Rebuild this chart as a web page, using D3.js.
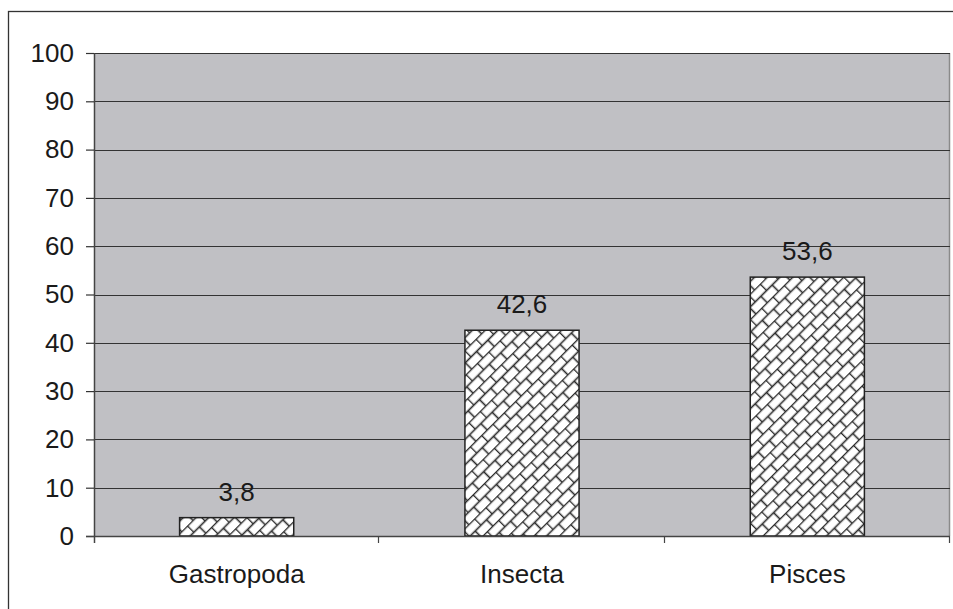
<!DOCTYPE html>
<html>
<head>
<meta charset="utf-8">
<script src="https://cdn.jsdelivr.net/npm/d3@7"></script>
<style>
  html, body { margin: 0; padding: 0; background: #fff; }
  svg { display: block; }
  text { font-family: "Liberation Sans", Arial, sans-serif; fill: #1a1a1a; }
</style>
</head>
<body>
<script>
// Share of prey groups (%)
const categories = ["Gastropoda", "Insecta", "Pisces"];
const values = [3.8, 42.6, 53.6];
const valueLabels = ["3,8", "42,6", "53,6"];
const yTicks = [0, 10, 20, 30, 40, 50, 60, 70, 80, 90, 100];

const W = 953, H = 609;
const plot = { left: 94, right: 950, top: 53, bottom: 536 };
const FS = 26;

const svg = d3.select("body").append("svg").attr("width", W).attr("height", H);

// diagonal brick hatch used for the bars
const defs = svg.append("defs");
const pat = defs.append("pattern")
  .attr("id", "brick")
  .attr("patternUnits", "userSpaceOnUse")
  .attr("width", 16).attr("height", 18)
  .attr("patternTransform", "rotate(-45)");
pat.append("rect").attr("width", 16).attr("height", 18).attr("fill", "#fff");
["M0,0.5H16", "M0,9.5H16", "M0.5,0.5V9.5", "M8.5,9.5V18"].forEach(d => {
  pat.append("path").attr("d", d)
    .attr("stroke", "#2a2a2a").attr("stroke-width", 1.6).attr("fill", "none");
});

// outer frame
svg.append("rect")
  .attr("x", 8.5).attr("y", 11.5).attr("width", 1000).attr("height", 700)
  .attr("fill", "none").attr("stroke", "#333").attr("stroke-width", 1.3);

const x = d3.scaleBand().domain(categories)
  .range([plot.left, plot.right]).paddingInner(0.6).paddingOuter(0.3);
const y = d3.scaleLinear().domain([0, 100]).range([plot.bottom, plot.top]);

// plot background
svg.append("rect")
  .attr("x", plot.left).attr("y", plot.top)
  .attr("width", plot.right - plot.left).attr("height", plot.bottom - plot.top)
  .attr("fill", "#c0c0c4");
svg.append("line")
  .attr("x1", plot.right - 0.5).attr("x2", plot.right - 0.5)
  .attr("y1", plot.top).attr("y2", plot.bottom)
  .attr("stroke", "#8a8a8a").attr("stroke-width", 1.5);

// horizontal gridlines
svg.append("g").selectAll("line").data(yTicks.filter(d => d > 0)).join("line")
  .attr("x1", plot.left).attr("x2", plot.right)
  .attr("y1", d => Math.round(y(d)) + 0.5).attr("y2", d => Math.round(y(d)) + 0.5)
  .attr("stroke", "#333").attr("stroke-width", 1.2);

// bars
svg.append("g").selectAll("rect").data(values).join("rect")
  .attr("x", (d, i) => x(categories[i]))
  .attr("y", d => y(d))
  .attr("width", x.bandwidth())
  .attr("height", d => y(0) - y(d))
  .attr("fill", "url(#brick)")
  .attr("stroke", "#222").attr("stroke-width", 1.5);

// value labels
svg.append("g").selectAll("text").data(values).join("text")
  .attr("x", (d, i) => x(categories[i]) + x.bandwidth() / 2)
  .attr("y", d => y(d) - 17)
  .attr("text-anchor", "middle")
  .attr("font-size", FS)
  .text((d, i) => valueLabels[i]);

// y axis
const yAxis = svg.append("g")
  .attr("transform", `translate(${plot.left},0)`)
  .call(d3.axisLeft(y).tickValues(yTicks).tickSize(8).tickSizeOuter(0).tickPadding(12));
yAxis.select(".domain").attr("stroke", "#444").attr("stroke-width", 1.5)
  .attr("d", `M0.5,${plot.top}V${plot.bottom + 7}`);
yAxis.selectAll(".tick line").attr("stroke", "#333").attr("stroke-width", 1.2);
yAxis.selectAll(".tick text")
  .attr("font-size", FS).attr("fill", "#1a1a1a")
  .attr("font-family", "'Liberation Sans', Arial, sans-serif");

// x axis
const xAxis = svg.append("g")
  .attr("transform", `translate(0,${plot.bottom})`)
  .call(d3.axisBottom(x).tickSize(0).tickPadding(29));
xAxis.select(".domain").attr("stroke", "#444").attr("stroke-width", 1.5)
  .attr("d", `M${plot.left - 8},0.5H${plot.right}`);
xAxis.selectAll(".tick text")
  .attr("font-size", FS).attr("fill", "#1a1a1a")
  .attr("font-family", "'Liberation Sans', Arial, sans-serif");
// category boundary ticks
const step = x.step();
const bounds = categories.map((c, i) => x(c) + x.bandwidth() / 2 + step / 2);
xAxis.append("g").selectAll("line").data(bounds).join("line")
  .attr("x1", d => Math.round(d) - 0.5).attr("x2", d => Math.round(d) - 0.5)
  .attr("y1", 0).attr("y2", 7)
  .attr("stroke", "#444").attr("stroke-width", 1.2);
</script>
</body>
</html>
